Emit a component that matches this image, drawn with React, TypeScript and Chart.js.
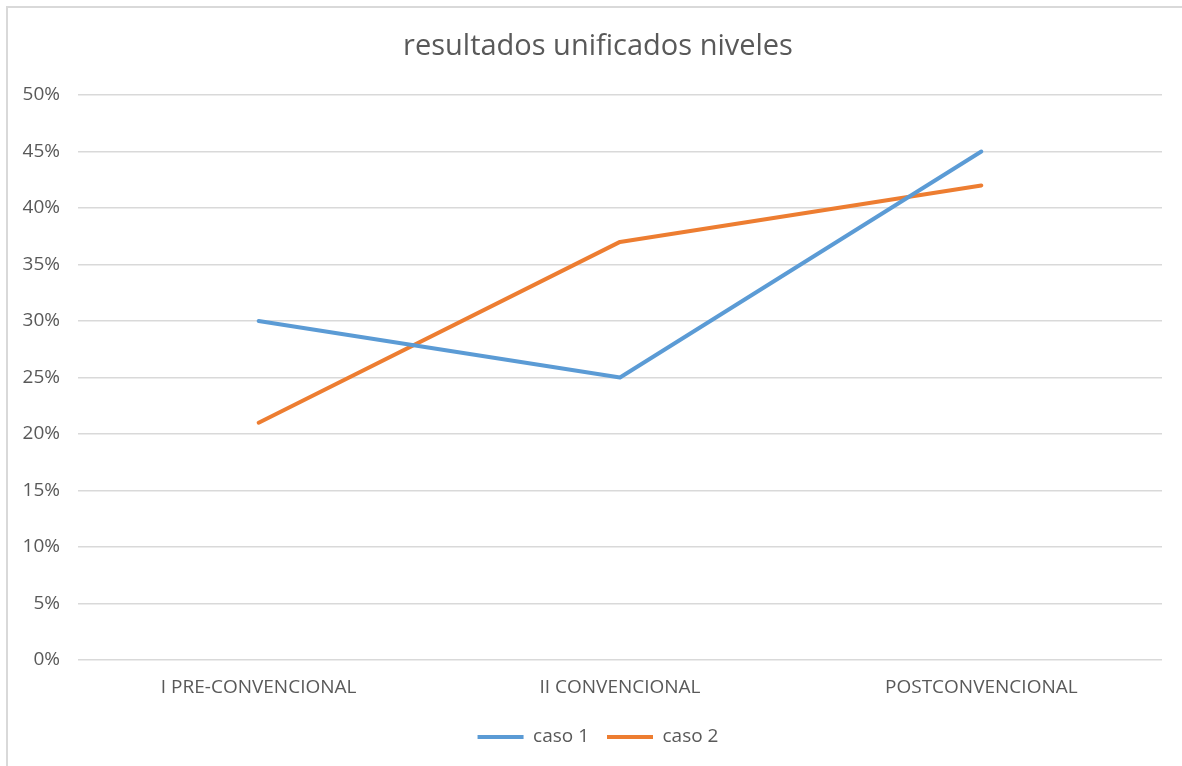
import React, { useEffect, useRef } from "react";
import { Chart, registerables } from "chart.js";

Chart.register(...registerables);

const categories = ["I PRE-CONVENCIONAL", "II CONVENCIONAL", "POSTCONVENCIONAL"];
const caso1 = [30, 25, 45];
const caso2 = [21, 37, 42];
const seriesNames = ["caso 1", "caso 2"];
const titleText = "resultados unificados niveles";

const FONT = "'Open Sans', sans-serif";
const TEXT = "#595959";

// Shift title and legend boxes so they are centred like the reference
const centerShift = {
  id: "centerShift",
  afterLayout(chart: any) {
    if (chart.titleBlock) chart.titleBlock.left = 34;
    if (chart.legend) chart.legend.left = 34;
  },
};

export default function App() {
  const ref = useRef<HTMLCanvasElement | null>(null);

  useEffect(() => {
    if (!ref.current) return;
    const chart = new Chart(ref.current, {
      type: "line",
      data: {
        labels: categories,
        datasets: [
          {
            label: seriesNames[0],
            data: caso1,
            borderColor: "#5b9bd5",
            backgroundColor: "#5b9bd5",
            borderWidth: 4,
            pointRadius: 0,
            pointHoverRadius: 0,
            borderCapStyle: "round",
            borderJoinStyle: "round",
            tension: 0,
          },
          {
            label: seriesNames[1],
            data: caso2,
            borderColor: "#ed7d31",
            backgroundColor: "#ed7d31",
            borderWidth: 4,
            pointRadius: 0,
            pointHoverRadius: 0,
            borderCapStyle: "round",
            borderJoinStyle: "round",
            tension: 0,
          },
        ],
      },
      options: {
        responsive: false,
        animation: false,
        layout: { padding: { left: 0, right: 20, top: 0, bottom: 9.5 } },
        plugins: {
          tooltip: { enabled: false },
          title: {
            display: true,
            text: titleText,
            color: TEXT,
            font: { family: FONT, size: 29, weight: "normal", lineHeight: 1.2 },
            padding: { top: 29.6, bottom: 30.6 },
          },
          legend: {
            position: "bottom",
            labels: {
              usePointStyle: true,
              pointStyle: "line",
              pointStyleWidth: 46,
              boxHeight: 19,
              padding: 18,
              color: TEXT,
              font: { family: FONT, size: 19, lineHeight: 1.2 },
            },
          },
        },
        scales: {
          x: {
            offset: true,
            grid: { display: false, drawTicks: false },
            border: { display: false },
            ticks: {
              color: TEXT,
              font: { family: FONT, size: 19, lineHeight: 1.2 },
              padding: 16.6,
              maxRotation: 0,
              autoSkip: false,
            },
            afterFit: (axis: any) => {
              axis.height = 49.5;
            },
          },
          y: {
            min: 0,
            max: 50,
            grid: { color: "#d9d9d9", lineWidth: 1.5, drawTicks: false },
            border: { display: false },
            ticks: {
              stepSize: 5,
              color: TEXT,
              font: { family: FONT, size: 19, lineHeight: 1.2 },
              padding: 18,
              callback: (v: any) => `${v}%`,
            },
            afterFit: (axis: any) => {
              axis.width = 78;
            },
          },
        },
      },
      plugins: [centerShift],
    });
    return () => chart.destroy();
  }, []);

  return (
    <div>
      <div
        style={{
          position: "fixed",
          left: 6,
          top: 6,
          width: 1300,
          height: 900,
          border: "2px solid #d9d9d9",
          boxSizing: "border-box",
          background: "#ffffff",
        }}
      />
      <canvas
        ref={ref}
        width={1182}
        height={766}
        style={{ position: "fixed", left: 0, top: 0, display: "block" }}
      />
    </div>
  );
}
